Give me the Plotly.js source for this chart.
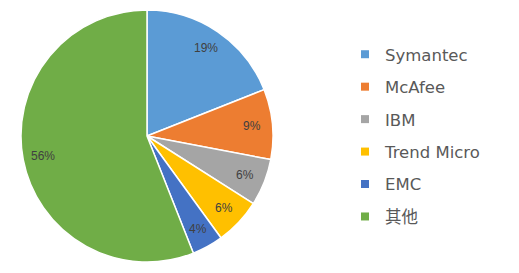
<!DOCTYPE html>
<html>
<head>
<meta charset="utf-8">
<script src="https://cdn.plot.ly/plotly-3.0.1.min.js"></script>
<style>
  html, body { margin: 0; padding: 0; background: #ffffff; }
  #chart { width: 519px; height: 273px; }
</style>
</head>
<body>
<div id="chart"></div>
<script>
// ---- data ----
var vendors = ["Symantec", "McAfee", "IBM", "Trend Micro", "EMC", "其他"];
var shares = [19, 9, 6, 6, 4, 56];
var sliceColors = ["#5B9BD5", "#ED7D31", "#A5A5A5", "#FFC000", "#4472C4", "#70AD47"];

var W = 519, H = 273;
var cx = 147, cy = 136, R = 126;
var labelRadius = 0.84;

var pie = {
  type: "pie",
  labels: vendors,
  values: shares,
  sort: false,
  direction: "clockwise",
  rotation: 0,
  marker: { colors: sliceColors, line: { color: "#ffffff", width: 1.5 } },
  textinfo: "none",
  showlegend: false,
  hoverinfo: "label+percent",
  domain: { x: [(cx - R) / W, (cx + R) / W], y: [(H - cy - R) / H, (H - cy + R) / H] }
};

// percentage labels placed at each slice's mid angle, computed from the shares
var total = shares.reduce(function (a, b) { return a + b; }, 0);
var cum = 0;
var labelAnns = shares.map(function (v) {
  var mid = (cum + v / 2) / total * 2 * Math.PI; // clockwise from 12 o'clock
  cum += v;
  var px = cx + labelRadius * R * Math.sin(mid);
  var py = cy - labelRadius * R * Math.cos(mid);
  return {
    xref: "paper", yref: "paper",
    x: px / W, y: 1 - py / H,
    xanchor: "center", yanchor: "middle",
    text: Math.round(v / total * 100) + "%",
    showarrow: false,
    font: { family: "Liberation Sans, Arial, sans-serif", size: 12, color: "#404040" }
  };
});

// legend entries, one per category, built from the same arrays
var legendTraces = vendors.map(function (name, i) {
  return {
    type: "scatter",
    mode: "markers",
    x: [null], y: [null],
    name: name,
    legendgroup: "g" + i,
    marker: { symbol: "square", size: 8, color: sliceColors[i] },
    hoverinfo: "skip"
  };
});

var layout = {
  width: W, height: H,
  margin: { l: 0, r: 0, t: 0, b: 0 },
  paper_bgcolor: "#ffffff",
  plot_bgcolor: "#ffffff",
  xaxis: { visible: false },
  yaxis: { visible: false },
  annotations: labelAnns,
  showlegend: true,
  legend: {
    x: 345 / W, xanchor: "left",
    y: (H - 37) / H, yanchor: "top",
    traceorder: "grouped",
    tracegroupgap: 8,
    font: { family: "DejaVu Sans, Noto Sans CJK SC, sans-serif", size: 16.5, color: "#595959" },
    bgcolor: "rgba(0,0,0,0)"
  }
};

Plotly.newPlot("chart", [pie].concat(legendTraces), layout, { displayModeBar: false, staticPlot: true });
</script>
</body>
</html>
